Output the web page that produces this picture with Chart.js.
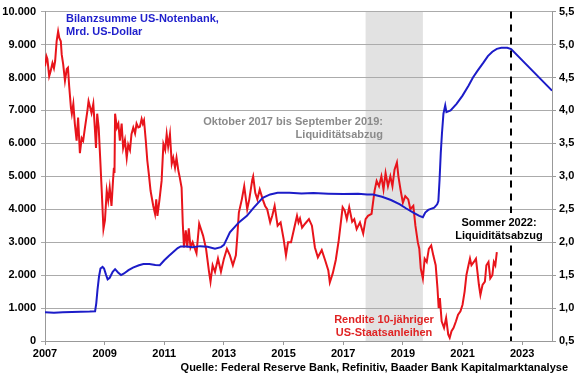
<!DOCTYPE html>
<html><head><meta charset="utf-8">
<script src="https://cdn.jsdelivr.net/npm/chart.js@4.4.0/dist/chart.umd.min.js"></script>
<style>html,body{margin:0;padding:0;background:#fff;}#wrap{width:580px;height:375px;}</style>
</head><body><div id="wrap"><canvas id="c" width="580" height="375"></canvas></div>
<script>
// ---- data ----
const xTicks = [2007, 2009, 2011, 2013, 2015, 2017, 2019, 2021, 2023];

// Fed balance sheet, bn USD (left axis)
const fedYears = [2007.0,2007.3,2007.6,2007.9,2008.2,2008.5,2008.68,2008.72,2008.76,2008.81,2008.86,2008.93,2008.98,2009.05,2009.1,2009.17,2009.27,2009.35,2009.45,2009.55,2009.65,2009.8,2009.95,2010.15,2010.3,2010.5,2010.7,2010.85,2011.0,2011.15,2011.3,2011.45,2011.55,2011.75,2011.95,2012.2,2012.45,2012.7,2012.9,2013.0,2013.2,2013.5,2013.77,2014.0,2014.3,2014.55,2014.8,2015.2,2015.6,2016.0,2016.5,2017.0,2017.5,2017.8,2018.0,2018.3,2018.6,2018.9,2019.1,2019.35,2019.55,2019.67,2019.75,2019.85,2020.05,2020.15,2020.19,2020.23,2020.27,2020.31,2020.36,2020.42,2020.46,2020.6,2020.8,2021.0,2021.2,2021.35,2021.5,2021.7,2021.85,2022.0,2022.15,2022.3,2022.5,2022.63,2024.0];
const fedAssets = [870,860,870,880,885,895,905,1150,1550,1950,2200,2250,2200,2000,1870,1920,2100,2180,2080,2000,2050,2150,2230,2300,2340,2340,2310,2300,2450,2580,2700,2820,2870,2870,2850,2880,2860,2800,2850,2920,3300,3600,3800,4050,4350,4450,4500,4500,4480,4490,4470,4460,4470,4450,4450,4380,4280,4150,4030,3900,3800,3760,3900,3980,4050,4150,4250,4900,5700,6300,6900,7150,6950,7000,7200,7450,7750,8000,8200,8450,8650,8780,8870,8900,8900,8860,7600];

// 10y US Treasury yield, % (right axis)
const yieldYears = [2007.0,2007.05,2007.08,2007.14,2007.19,2007.25,2007.3,2007.34,2007.39,2007.44,2007.48,2007.53,2007.56,2007.61,2007.67,2007.73,2007.77,2007.81,2007.87,2007.9,2007.95,2008.0,2008.06,2008.11,2008.17,2008.23,2008.28,2008.34,2008.42,2008.46,2008.5,2008.56,2008.62,2008.67,2008.71,2008.75,2008.8,2008.85,2008.9,2008.96,2009.01,2009.07,2009.12,2009.17,2009.23,2009.28,2009.31,2009.33,2009.35,2009.41,2009.46,2009.51,2009.57,2009.62,2009.68,2009.74,2009.79,2009.85,2009.9,2009.96,2010.02,2010.07,2010.13,2010.18,2010.24,2010.28,2010.32,2010.38,2010.43,2010.48,2010.54,2010.63,2010.69,2010.73,2010.77,2010.84,2010.91,2010.97,2011.03,2011.08,2011.13,2011.19,2011.25,2011.3,2011.36,2011.41,2011.47,2011.52,2011.58,2011.62,2011.66,2011.72,2011.77,2011.82,2011.88,2011.95,2012.08,2012.17,2012.3,2012.4,2012.5,2012.55,2012.62,2012.7,2012.8,2012.9,2013.0,2013.1,2013.2,2013.3,2013.4,2013.45,2013.5,2013.6,2013.68,2013.78,2013.85,2013.95,2013.98,2014.05,2014.12,2014.2,2014.3,2014.38,2014.45,2014.55,2014.62,2014.7,2014.8,2014.9,2015.0,2015.08,2015.15,2015.25,2015.35,2015.45,2015.5,2015.55,2015.62,2015.72,2015.85,2015.95,2016.05,2016.15,2016.28,2016.39,2016.5,2016.55,2016.65,2016.75,2016.85,2016.98,2017.05,2017.12,2017.2,2017.3,2017.37,2017.45,2017.56,2017.67,2017.75,2017.83,2017.95,2018.05,2018.12,2018.2,2018.28,2018.35,2018.42,2018.5,2018.58,2018.65,2018.72,2018.8,2018.85,2018.92,2019.0,2019.08,2019.18,2019.25,2019.35,2019.42,2019.5,2019.55,2019.6,2019.67,2019.73,2019.8,2019.87,2019.95,2020.02,2020.1,2020.16,2020.2,2020.24,2020.3,2020.38,2020.45,2020.52,2020.57,2020.63,2020.7,2020.78,2020.85,2020.93,2021.0,2021.07,2021.13,2021.2,2021.25,2021.3,2021.38,2021.45,2021.5,2021.55,2021.6,2021.67,2021.75,2021.8,2021.87,2021.93,2022.0,2022.05,2022.1,2022.15];
const yieldPct = [4.67,4.82,4.78,4.52,4.6,4.72,4.64,4.75,5.05,5.2,5.1,5.05,4.85,4.7,4.45,4.63,4.65,4.37,4.04,3.95,4.1,3.8,3.54,3.89,3.35,3.58,3.54,3.74,3.99,4.14,4.07,3.96,4.1,3.74,3.43,3.95,3.74,3.28,2.8,2.2,2.33,2.78,2.63,2.83,2.55,2.93,3.13,3.05,3.95,3.74,3.8,3.54,3.8,3.43,3.55,3.28,3.48,3.4,3.64,3.74,3.65,3.8,3.74,3.75,3.87,3.8,3.85,3.54,3.24,3.04,2.78,2.55,2.43,2.65,2.4,2.65,2.93,3.49,3.4,3.64,3.45,3.64,3.19,3.28,3.13,3.28,3.09,2.98,2.83,2.28,1.92,2.18,1.92,2.21,1.92,2.0,1.83,2.28,2.1,1.9,1.55,1.4,1.65,1.55,1.75,1.55,1.75,1.9,1.8,1.65,1.8,2.1,2.45,2.65,2.85,2.5,2.65,2.95,3.0,2.75,2.65,2.8,2.65,2.55,2.5,2.3,2.4,2.55,2.25,2.3,2.05,1.8,2.0,2.0,2.2,2.4,2.3,2.36,2.22,2.28,2.35,2.25,1.92,1.77,1.88,1.73,1.57,1.39,1.53,1.73,2.03,2.53,2.48,2.35,2.53,2.31,2.35,2.2,2.3,2.13,2.35,2.4,2.43,2.78,2.93,2.85,3.0,2.8,3.05,2.85,3.0,2.85,3.1,3.21,3.0,2.8,2.6,2.7,2.65,2.5,2.55,2.25,2.0,1.9,1.6,1.45,1.75,1.7,1.9,1.95,1.8,1.65,1.3,1.0,1.15,0.8,0.7,0.85,0.6,0.55,0.65,0.7,0.8,0.9,0.95,1.05,1.25,1.5,1.65,1.75,1.65,1.7,1.75,1.55,1.35,1.2,1.35,1.4,1.65,1.7,1.45,1.5,1.7,1.65,1.85];

const bandStart = 2017.75;   // Oktober 2017
const bandEnd = 2019.67;     // September 2019
const qtMarker = 2022.63;    // Sommer 2022

const noteFed = ['Bilanzsumme US-Notenbank,', 'Mrd. US-Dollar'];
const noteQT1 = ['Oktober 2017 bis September 2019:', 'Liquiditätsabzug'];
const noteQT2 = ['Sommer 2022:', 'Liquiditätsabzug'];
const noteYield = ['Rendite 10-jähriger', 'US-Staatsanleihen'];
const sourceText = 'Quelle: Federal Reserve Bank, Refinitiv, Baader Bank Kapitalmarktanalyse';

// ---- drawing ----
const FAM = "'Liberation Sans', Arial, sans-serif";
const FONT = "bold 11px " + FAM;

function drawLines(ctx, lines, x, y0, lh, align, color) {
  ctx.font = FONT; ctx.fillStyle = color; ctx.textAlign = align; ctx.textBaseline = 'alphabetic';
  lines.forEach((t, i) => ctx.fillText(t, x, y0 + i * lh));
}

const overlay = {
  id: 'overlay',
  beforeDraw(chart) {
    const {ctx, chartArea: a, scales: {x}} = chart;
    ctx.save();
    ctx.fillStyle = '#fff';
    ctx.fillRect(0, 0, chart.width, chart.height);
    const x0 = x.getPixelForValue(bandStart), x1 = x.getPixelForValue(bandEnd);
    ctx.fillStyle = '#e2e2e2';
    ctx.fillRect(x0, a.top, x1 - x0, a.bottom - a.top);
    ctx.restore();
  },
  afterDatasetsDraw(chart) {
    const {ctx, chartArea: a, scales: {x}} = chart;
    ctx.save();
    const xm = Math.round(x.getPixelForValue(qtMarker)) + 0.0;
    ctx.strokeStyle = '#000'; ctx.lineWidth = 2; ctx.setLineDash([7, 6]);
    ctx.beginPath(); ctx.moveTo(xm, a.top); ctx.lineTo(xm, a.bottom); ctx.stroke();
    ctx.setLineDash([]);

    drawLines(ctx, noteFed, 66, 22, 13, 'left', '#1f1fcc');
    drawLines(ctx, noteQT1, 383, 125, 13, 'right', '#8a8a8a');

    ctx.fillStyle = '#fff';
    ctx.fillRect(441, 213, 110, 28);
    drawLines(ctx, noteQT2, 499, 226, 12.5, 'center', '#000');

    drawLines(ctx, noteYield, 384, 323, 13, 'center', '#e02424');

    drawLines(ctx, [sourceText], 568, 371, 13, 'right', '#000');
    ctx.restore();
  }
};

const tickFont = {family: FAM, size: 11, weight: 'bold'};

new Chart(document.getElementById('c').getContext('2d'), {
  type: 'line',
  data: {
    datasets: [
      {
        label: 'Bilanzsumme US-Notenbank',
        data: fedYears.map((v, i) => ({x: v, y: fedAssets[i]})),
        yAxisID: 'y', borderColor: '#1c1cc8', borderWidth: 2,
        pointRadius: 0, tension: 0, fill: false
      },
      {
        label: 'Rendite 10-jähriger US-Staatsanleihen',
        data: yieldYears.map((v, i) => ({x: v, y: yieldPct[i]})),
        yAxisID: 'y2', borderColor: '#e8141b', borderWidth: 2,
        pointRadius: 0, tension: 0, fill: false
      }
    ]
  },
  options: {
    responsive: false, animation: false, devicePixelRatio: 1,
    layout: {padding: {top: 11, left: 0, right: 0, bottom: 0}},
    plugins: {legend: {display: false}, tooltip: {enabled: false}},
    scales: {
      x: {
        type: 'linear', min: 2007, max: 2024,
        afterBuildTicks: s => { s.ticks = xTicks.map(v => ({value: v})); },
        ticks: {callback: v => String(v), color: '#000', font: tickFont, padding: 2, maxRotation: 0, autoSkip: false},
        grid: {drawOnChartArea: false, tickLength: 4, color: '#999'},
        border: {color: '#999'},
        afterFit: s => { s.height = 34; }
      },
      y: {
        position: 'left', min: 0, max: 10000,
        ticks: {stepSize: 1000, color: '#000', font: tickFont, padding: 5,
          callback: v => v === 0 ? '0' : (v / 1000) + '.000'},
        grid: {color: '#ababab', tickLength: 4},
        border: {color: '#999'},
        afterFit: s => { s.width = 45; }
      },
      y2: {
        position: 'right', min: 0.5, max: 5.5,
        ticks: {stepSize: 0.5, color: '#000', font: tickFont, padding: 3,
          callback: v => v.toFixed(1).replace('.', ',')},
        grid: {drawOnChartArea: false, tickLength: 4, color: '#999'},
        border: {color: '#999'},
        afterFit: s => { s.width = 28; }
      }
    }
  },
  plugins: [overlay]
});
</script>
</body></html>
